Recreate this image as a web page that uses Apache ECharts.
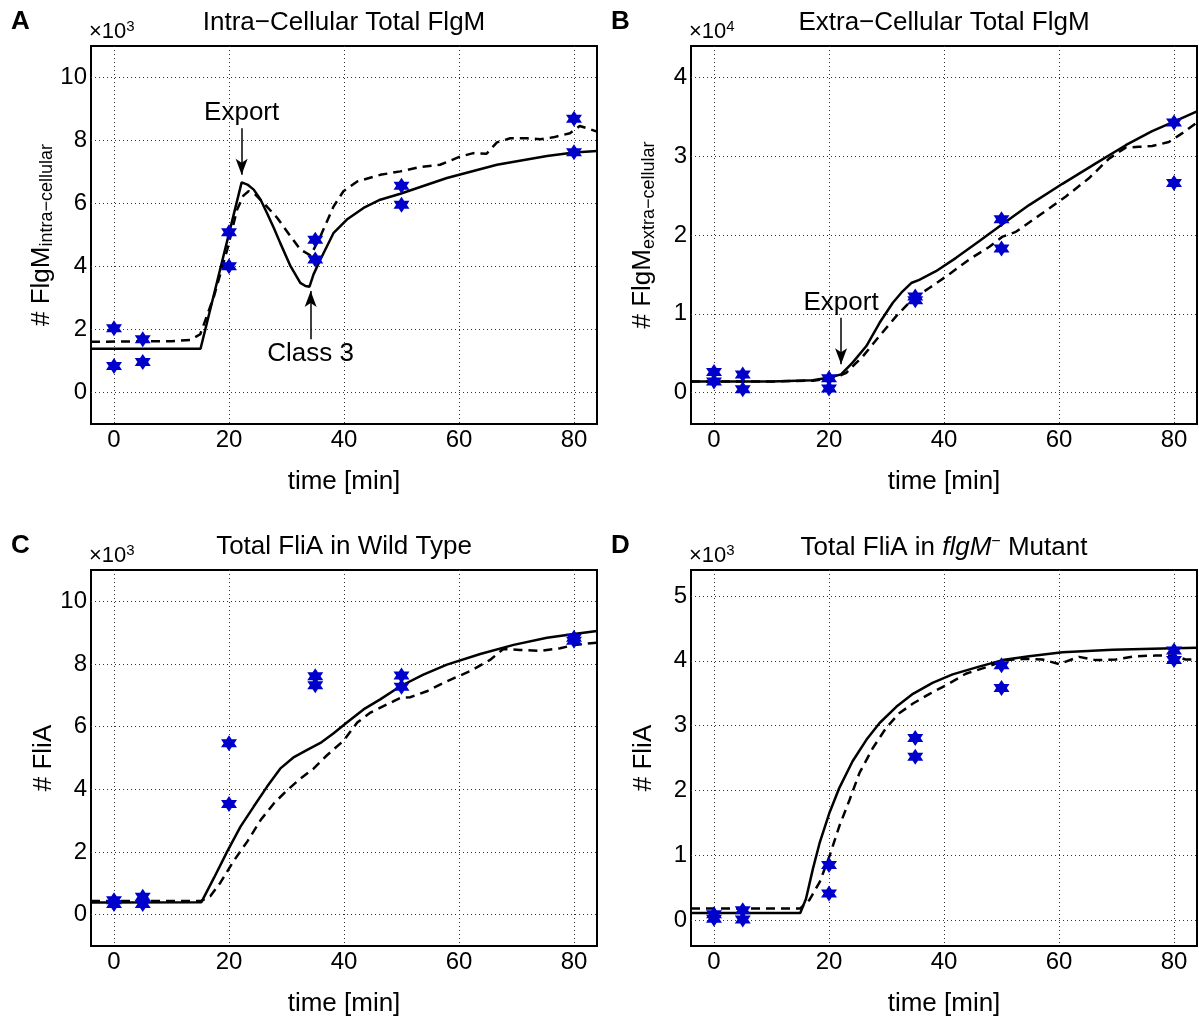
<!DOCTYPE html>
<html><head><meta charset="utf-8">
<script src="https://cdn.jsdelivr.net/npm/echarts@6/dist/echarts.min.js"></script>
<style>html,body{margin:0;padding:0;background:#fff}#c{width:1199px;height:1018px}</style>
</head><body><div id="c"></div>
<script>
const FONT = 'Liberation Sans, Arial, Helvetica, sans-serif';
const xTicks = [0, 20, 40, 60, 80];
const yTicksA = [0, 2, 4, 6, 8, 10];
const yTicksB = [0, 1, 2, 3, 4];
const yTicksC = [0, 2, 4, 6, 8, 10];
const yTicksD = [0, 1, 2, 3, 4, 5];

// measurement times (min)
const measTimes = [0, 0, 5, 5, 20, 20, 35, 35, 50, 50, 80, 80];
// measured values
const measA = [2.04, 0.84, 1.69, 0.97, 5.09, 4.01, 4.85, 4.22, 6.56, 5.96, 8.69, 7.63];
const measB = [0.26, 0.14, 0.23, 0.04, 0.18, 0.05, 1.22, 1.17, 2.20, 1.83, 3.43, 2.66];
const measC = [0.46, 0.34, 0.57, 0.34, 5.47, 3.53, 7.61, 7.32, 7.63, 7.27, 8.84, 8.74];
const measD = [0.09, 0.02, 0.15, 0.01, 0.85, 0.41, 2.81, 2.52, 3.93, 3.58, 4.16, 4.01];

// model curves [time, value]
const solidA = [[-4,1.39],[15.05,1.39],[22.2,6.67],[23.2,6.60],[24.3,6.44],[25.5,6.12],[26.6,5.70],[27.8,5.22],[28.9,4.75],[30.7,4.01],[32.4,3.48],[33.3,3.38],[34.0,3.36],[34.7,3.75],[35.9,4.22],[38.2,5.07],[40.5,5.49],[43.4,5.86],[46.3,6.12],[49.8,6.31],[57.9,6.81],[66.6,7.23],[75.3,7.51],[80,7.62],[84,7.67]];
const dashA = [[-4,1.61],[10,1.63],[13.3,1.67],[15,1.85],[17.4,3.06],[19.7,4.54],[21.4,5.80],[22.5,6.25],[23.4,6.39],[24.5,6.30],[26,6.02],[28.4,5.54],[30.7,4.96],[32.4,4.54],[34.2,4.35],[35.9,4.96],[38.2,5.91],[39.9,6.39],[42.3,6.70],[46.3,6.91],[49.8,7.02],[53.3,7.16],[56.7,7.23],[60.2,7.49],[62.5,7.60],[64.8,7.58],[66.6,7.94],[68.9,8.07],[71.8,8.07],[74.1,8.04],[76.4,8.10],[79.3,8.23],[81.0,8.46],[82.8,8.36],[84,8.28]];
const solidB = [[-4,0.139],[10,0.14],[17.2,0.156],[20.1,0.19],[22.1,0.23],[24.1,0.38],[26.5,0.59],[28.8,0.885],[31.1,1.14],[32.8,1.285],[34.3,1.39],[35.7,1.43],[38.6,1.54],[42.1,1.71],[46.1,1.92],[50.2,2.14],[54.8,2.38],[60.6,2.65],[66.4,2.91],[71.6,3.14],[76.2,3.32],[80,3.44],[84,3.57]];
const dashB = [[-4,0.139],[10,0.14],[17.2,0.15],[20.1,0.18],[22.1,0.22],[23,0.25],[25.9,0.46],[28.8,0.72],[31.7,0.97],[34.6,1.19],[37.5,1.33],[40.3,1.47],[44.4,1.69],[47.9,1.85],[50.2,1.98],[52.5,2.04],[56.6,2.25],[61.2,2.49],[65.2,2.72],[68.7,2.97],[71.6,3.11],[73.9,3.12],[76.2,3.13],[79.1,3.18],[81.4,3.29],[84,3.43]];
const solidC = [[-4,0.39],[15.2,0.40],[17.4,1.18],[19.7,2.02],[22.0,2.81],[24.3,3.45],[26.6,4.08],[28.9,4.66],[31.3,5.03],[33.6,5.26],[35.9,5.48],[38.2,5.79],[40.5,6.13],[43.4,6.55],[46.3,6.87],[49.8,7.29],[53.8,7.66],[57.9,7.98],[63.7,8.32],[69.5,8.61],[75.3,8.84],[80,8.96],[84,9.05]];
const dashC = [[-4,0.44],[15.2,0.44],[16.8,0.6],[18.5,1.02],[20.8,1.71],[23.2,2.34],[25.5,3.02],[27.8,3.55],[30.1,3.97],[32.4,4.34],[34.7,4.66],[37.0,5.08],[39.9,5.55],[42.3,6.13],[44.6,6.45],[47.5,6.71],[49.8,6.92],[51.5,6.94],[54.4,7.13],[57.9,7.45],[61.9,7.77],[65.4,8.13],[67.7,8.48],[70.6,8.45],[74.1,8.42],[77.6,8.50],[80,8.61],[84,8.68]];
const solidD = [[-4,0.11],[15,0.11],[16,0.33],[17.2,0.79],[18.4,1.20],[20.1,1.66],[21.8,2.04],[24.1,2.45],[26.5,2.78],[28.8,3.04],[31.7,3.29],[34.6,3.49],[38,3.66],[41.5,3.79],[46.1,3.91],[50.2,4.01],[54.8,4.07],[60.6,4.13],[69.3,4.17],[78,4.19],[84,4.20]];
const dashD = [[-4,0.18],[15,0.18],[16.6,0.31],[18.4,0.59],[20.1,0.99],[21.8,1.45],[23.6,1.86],[25.3,2.27],[27.6,2.65],[29.9,2.96],[32.2,3.19],[34.6,3.34],[37.5,3.49],[40.3,3.62],[43.8,3.80],[47.3,3.90],[50.8,4.01],[54.2,4.03],[57.1,4.02],[60,3.95],[63.5,4.06],[66.4,4.01],[69.9,4.02],[73.3,4.07],[76.8,4.08],[80,4.08],[82,4.02],[84,4.02]];

// annotations: [label, time, arrow start, arrow end]
const annotA = [['Export', 22.2, 8.39, 6.91], ['Class 3', 34.2, 1.69, 3.22]];
const annotB = [['Export', 22.1, 0.95, 0.36]];

const titles = ['Intra\u2212Cellular Total FlgM', 'Extra\u2212Cellular Total FlgM', 'Total FliA in Wild Type', '{n|Total FliA in }{i|flgM}{p|\u2212}{n| Mutant}'];
const yNames = ['{m|# FlgM}{s|intra\u2212cellular}', '{m|# FlgM}{s|extra\u2212cellular}', '{m|# FliA}', '{m|# FliA}'];
const yRanges = [[-1, 11], [-0.4, 4.4], [-1, 11], [-0.4, 5.4]];
const yTickSets = [yTicksA, yTicksB, yTicksC, yTicksD];
const exps = ['3', '4', '3', '3'];
const letters = ['A', 'B', 'C', 'D'];

const grids = [
  {left: 91, top: 46, width: 506, height: 378},
  {left: 691, top: 46, width: 506, height: 378},
  {left: 91, top: 570, width: 506, height: 378},
  {left: 691, top: 570, width: 506, height: 378}
];

const STAR = 'path://M0,-10 L2.887,-5 L8.66,-5 L5.774,0 L8.66,5 L2.887,5 L0,10 L-2.887,5 L-8.66,5 L-5.774,0 L-8.66,-5 L-2.887,-5 Z';

const chart = echarts.init(document.getElementById('c'), null, {renderer: 'canvas'});

const grid = grids.map(g => Object.assign({show: true, borderColor: '#000', borderWidth: 2, backgroundColor: '#fff'}, g));

const xAxis = grids.map((g, i) => ({
  type: 'value', gridIndex: i, min: -4, max: 84,
  axisLine: {show: false},
  axisTick: {show: false, customValues: xTicks},
  axisLabel: {customValues: xTicks, fontSize: 24, color: '#000', margin: 4, fontFamily: FONT},
  splitLine: {show: true, lineStyle: {type: [1, 3], color: '#333', width: 1}},
  name: 'time [min]', nameLocation: 'middle', nameGap: 45,
  nameTextStyle: {fontSize: 26, color: '#000', fontFamily: FONT}
}));

const yAxis = grids.map((g, i) => ({
  type: 'value', gridIndex: i, min: yRanges[i][0], max: yRanges[i][1],
  axisLine: {show: false},
  axisTick: {show: false, customValues: yTickSets[i]},
  axisLabel: {customValues: yTickSets[i], fontSize: 24, color: '#000', margin: 4, fontFamily: FONT},
  splitLine: {show: true, lineStyle: {type: [1, 3], color: '#333', width: 1}},
  name: yNames[i], nameLocation: 'middle', nameGap: i < 2 ? 33 : 34, nameRotate: 90,
  nameTextStyle: {color: '#000', fontFamily: FONT, rich: {
    m: {fontSize: 26, color: '#000', fontFamily: FONT},
    s: {fontSize: 18, color: '#000', fontFamily: FONT, padding: [12, 0, 0, 0]}
  }}
}));

const title = titles.map((t, i) => ({
  text: t, left: grids[i].left + grids[i].width / 2, top: i < 2 ? 10 : 534, textAlign: 'center', padding: 0,
  textStyle: {fontSize: 26, fontWeight: 'normal', color: '#000', fontFamily: FONT,
    rich: {
      n: {fontSize: 26, color: '#000', fontFamily: FONT},
      i: {fontSize: 26, color: '#000', fontFamily: FONT, fontStyle: 'italic'},
      p: {fontSize: 16, color: '#000', fontFamily: FONT, padding: [0, 0, 12, 0]}
    }}
}));

function markFor(list) {
  return {
    silent: true, animation: false,
    symbol: ['none', 'arrow'], symbolSize: [9, 16],
    lineStyle: {color: '#000', width: 1.5, type: 'solid'},
    label: {show: true, position: 'start', formatter: '{b}', fontSize: 26, color: '#000', fontFamily: FONT, distance: 2},
    data: list.map(a => [{coord: [a[1], a[2]], name: a[0]}, {coord: [a[1], a[3]]}])
  };
}

const solids = [solidA, solidB, solidC, solidD];
const dashes = [dashA, dashB, dashC, dashD];
const meas = [measA, measB, measC, measD];
const annots = [annotA, annotB, [], []];

const series = [];
for (let i = 0; i < 4; i++) {
  series.push({type: 'line', xAxisIndex: i, yAxisIndex: i, data: dashes[i], showSymbol: false, symbol: 'none',
    lineStyle: {color: '#000', width: 2.5, type: [9, 6]}, z: 3, clip: true});
  const sol = {type: 'line', xAxisIndex: i, yAxisIndex: i, data: solids[i], showSymbol: false, symbol: 'none',
    lineStyle: {color: '#000', width: 2.5}, z: 4, clip: true};
  if (annots[i].length) sol.markLine = markFor(annots[i]);
  series.push(sol);
  series.push({type: 'scatter', xAxisIndex: i, yAxisIndex: i, data: measTimes.map((t, k) => [t, meas[i][k]]),
    symbol: STAR, symbolSize: 16, itemStyle: {color: '#0000cc', opacity: 1}, z: 5});
}

const graphic = [];
grids.forEach((g, i) => {
  graphic.push({type: 'text', left: g.left - 80, top: g.top - 37,
    style: {text: letters[i], font: 'bold 26px ' + FONT, fill: '#000'}});
  graphic.push({type: 'text', left: g.left - 2, top: g.top - 27,
    style: {text: '{b|\u00d710}{p|' + exps[i] + '}', fill: '#000',
      rich: {b: {fontSize: 22, fontFamily: FONT, fill: '#000'}, p: {fontSize: 15, fontFamily: FONT, fill: '#000', padding: [0, 0, 10, 0]}}}});
});

chart.setOption({animation: false, backgroundColor: '#fff', title, grid, xAxis, yAxis, series, graphic});
</script>
</body></html>
